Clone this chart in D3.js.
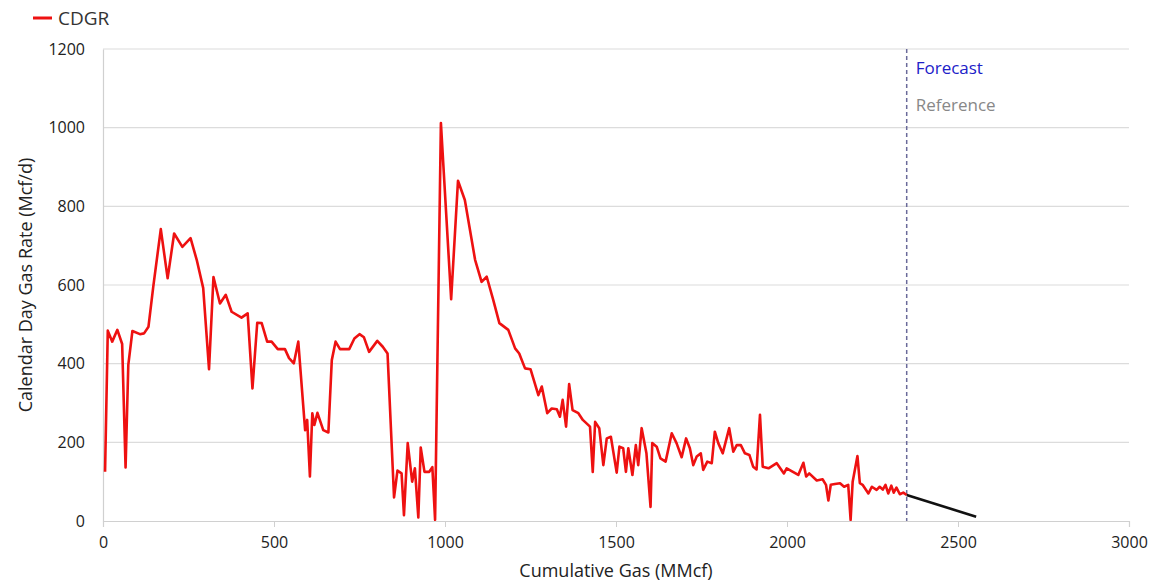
<!DOCTYPE html>
<html><head><meta charset="utf-8">
<script src="https://cdn.jsdelivr.net/npm/d3@7"></script>
<style>body{margin:0;background:#fff;font-family:"Open Sans","Noto Sans",sans-serif;}</style>
</head><body><svg id="c" width="1172" height="582"></svg>
<script>
const cumGas = [6,14,27,42,56,66,74,86,108,120,133,147,169,189,208,232,256,274,293,310,323,342,359,376,405,423,437,451,464,480,493,511,532,544,558,571,591,597,605,612,618,627,644,659,669,680,693,720,735,750,763,778,802,818,832,851,861,873,880,891,904,912,922,929,940,954,963,971,988,1018,1038,1058,1088,1107,1122,1141,1159,1185,1205,1217,1234,1250,1273,1283,1299,1312,1327,1336,1344,1354,1363,1373,1390,1403,1424,1432,1439,1451,1463,1473,1485,1502,1510,1521,1529,1536,1548,1558,1565,1575,1589,1601,1606,1619,1630,1645,1663,1677,1692,1705,1716,1726,1736,1748,1755,1767,1780,1789,1799,1812,1831,1843,1853,1865,1877,1890,1901,1911,1921,1929,1946,1970,1991,1999,2033,2048,2056,2065,2087,2104,2114,2121,2128,2140,2155,2167,2179,2186,2192,2206,2213,2221,2238,2248,2262,2271,2280,2288,2296,2305,2312,2320,2330,2340,2350];
const cdgr = [125,484,456,486,450,136,397,483,475,477,494,596,742,617,731,697,719,664,592,386,620,553,575,532,517,528,337,504,503,456,456,437,437,414,401,456,231,257,113,274,244,275,231,225,409,456,437,437,464,475,467,430,458,443,426,60,128,121,15,198,100,134,9,187,125,125,137,3,1012,564,865,816,664,608,621,562,503,486,439,426,388,386,320,342,274,286,284,265,308,240,348,282,274,257,240,125,252,236,142,210,214,123,189,185,125,185,117,193,142,236,172,36,198,189,159,151,223,198,162,210,185,142,164,172,130,151,147,227,198,172,236,176,193,193,172,168,138,131,270,138,134,147,121,134,117,148,113,121,103,106,92,52,92,94,96,87,92,3,100,165,96,92,70,87,79,87,80,92,70,90,72,85,68,72,66];
const forecastX = [2350, 2553];
const forecastY = [66, 11];
const forecastCum = 2350;
const xTicks = [0,500,1000,1500,2000,2500,3000];
const yTicks = [0,200,400,600,800,1000,1200];

const svg = d3.select("#c");
const m = {l:103, r:43, t:49, b:61};
const W = 1172, H = 582;
const x = d3.scaleLinear().domain([0,3000]).range([m.l, W-m.r]);
const y = d3.scaleLinear().domain([0,1200]).range([H-m.b, m.t]);

// gridlines
svg.append("g").selectAll("line").data(yTicks.filter(d=>d>0)).join("line")
  .attr("x1", m.l).attr("x2", W-m.r).attr("y1", d=>y(d)).attr("y2", d=>y(d))
  .attr("stroke", "#dcdcdc").attr("stroke-width", 1.2);

// axes
const xa = svg.append("g").attr("transform", `translate(0,${H-m.b})`)
  .call(d3.axisBottom(x).tickValues(xTicks).tickSize(6).tickPadding(10).tickFormat(d3.format("d")));
xa.select(".domain").attr("stroke", "#d0d0d0").attr("stroke-width",1.2);
xa.selectAll(".tick line").attr("stroke", "#d0d0d0");
xa.selectAll("text").attr("font-size", 16).attr("fill", "#222").attr("font-family", "'Open Sans', sans-serif");

const ya = svg.append("g").attr("transform", `translate(${m.l},0)`)
  .call(d3.axisLeft(y).tickValues(yTicks).tickSize(0).tickPadding(18).tickFormat(d3.format("d")));
ya.select(".domain").attr("stroke", "#d0d0d0").attr("stroke-width",1.2);
ya.selectAll("text").attr("font-size", 16).attr("fill", "#222").attr("font-family", "'Open Sans', sans-serif");

// axis titles
svg.append("text").attr("x", (m.l + W - m.r)/2).attr("y", 577).attr("text-anchor","middle")
  .attr("font-size", 18).attr("fill","#222").text("Cumulative Gas (MMcf)");
svg.append("text").attr("transform", `translate(32,${(m.t + H - m.b)/2}) rotate(-90)`).attr("text-anchor","middle")
  .attr("font-size", 18).attr("fill","#222").text("Calendar Day Gas Rate (Mcf/d)");

// forecast marker line
svg.append("line").attr("x1", x(forecastCum)).attr("x2", x(forecastCum)).attr("y1", m.t).attr("y2", H-m.b)
  .attr("stroke", "#6a6a9a").attr("stroke-width", 1.5).attr("stroke-dasharray", "4,3");
svg.append("text").attr("x", x(forecastCum)+9).attr("y", 74).attr("font-size", 17).attr("fill", "#2020c8").text("Forecast");
svg.append("text").attr("x", x(forecastCum)+9).attr("y", 111).attr("font-size", 17).attr("fill", "#888").text("Reference");

// data line
const line = d3.line().x(d=>x(d[0])).y(d=>y(d[1]));
svg.append("path").datum(cumGas.map((c,i)=>[c, cdgr[i]]))
  .attr("d", line).attr("fill","none").attr("stroke","#ee1111").attr("stroke-width",2.6).attr("stroke-linejoin","round");
svg.append("path").datum(forecastX.map((c,i)=>[c, forecastY[i]]))
  .attr("d", line).attr("fill","none").attr("stroke","#111").attr("stroke-width",2.6);

// legend
svg.append("line").attr("x1", 33).attr("x2", 52).attr("y1", 18).attr("y2", 18).attr("stroke","#ee1111").attr("stroke-width",3);
svg.append("text").attr("x", 58).attr("y", 25).attr("font-size", 19).attr("fill","#333").text("CDGR");
</script></body></html>
